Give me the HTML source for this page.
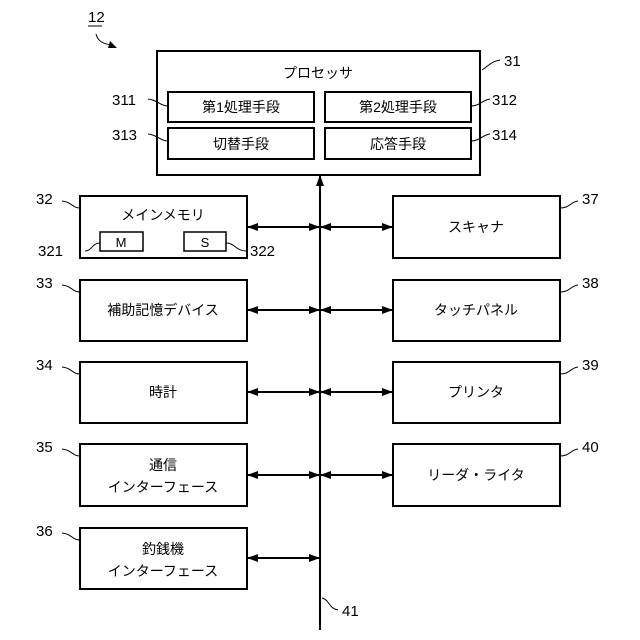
<!DOCTYPE html>
<html><head><meta charset="utf-8"><style>body{margin:0;background:#fff}svg{display:block}text{font-family:"Liberation Sans","Noto Sans CJK JP",sans-serif;fill:#000}</style></head><body>
<svg width="640" height="640" viewBox="0 0 640 640">
<defs><marker id="a" markerWidth="11" markerHeight="10" refX="10" refY="5" orient="auto-start-reverse" markerUnits="userSpaceOnUse"><path d="M0,1 L11,5 L0,9z" fill="#000"/></marker></defs>
<g fill="none" stroke="#000" stroke-width="2">
<rect x="157" y="51" width="323" height="124"/>
<rect x="168" y="92" width="146" height="30"/><rect x="325" y="92" width="146" height="30"/>
<rect x="168" y="128" width="146" height="31"/><rect x="325" y="128" width="146" height="31"/>
<rect x="80" y="196" width="167" height="62"/><rect x="393" y="196" width="167" height="62"/>
<rect x="80" y="280" width="167" height="61"/><rect x="393" y="280" width="167" height="61"/>
<rect x="80" y="362" width="167" height="61"/><rect x="393" y="362" width="167" height="61"/>
<rect x="80" y="444" width="167" height="62"/><rect x="393" y="444" width="167" height="62"/>
<rect x="80" y="528" width="167" height="61"/>
</g>
<g fill="none" stroke="#000" stroke-width="1.5">
<rect x="100" y="232" width="43" height="19"/><rect x="184" y="232" width="42" height="19"/>
</g>
<g stroke="#000" stroke-width="2" fill="none">
<line x1="320" y1="630" x2="320" y2="176" marker-end="url(#a)"/>
<line x1="248" y1="227" x2="319" y2="227" marker-start="url(#a)" marker-end="url(#a)"/>
<line x1="321" y1="227" x2="392" y2="227" marker-start="url(#a)" marker-end="url(#a)"/>
<line x1="248" y1="310" x2="319" y2="310" marker-start="url(#a)" marker-end="url(#a)"/>
<line x1="321" y1="310" x2="392" y2="310" marker-start="url(#a)" marker-end="url(#a)"/>
<line x1="248" y1="392" x2="319" y2="392" marker-start="url(#a)" marker-end="url(#a)"/>
<line x1="321" y1="392" x2="392" y2="392" marker-start="url(#a)" marker-end="url(#a)"/>
<line x1="248" y1="475" x2="319" y2="475" marker-start="url(#a)" marker-end="url(#a)"/>
<line x1="321" y1="475" x2="392" y2="475" marker-start="url(#a)" marker-end="url(#a)"/>
<line x1="248" y1="558" x2="319" y2="558" marker-start="url(#a)" marker-end="url(#a)"/>
</g>
<g stroke="#000" stroke-width="1" fill="none">
<path d="M482,70 C490,65 490,62 500,60"/>
<path d="M148,99 C158,100 160,106 168,106"/>
<path d="M471,106 C480,106 482,100 490,99"/>
<path d="M148,134 C158,135 160,141 168,141"/>
<path d="M471,141 C480,141 482,135 490,134"/>
<path d="M62,201 C72,202 72,208 80,208"/>
<path d="M560,208 C570,208 570,202 578,201"/>
<path d="M85,251 C92,251 92,243 100,243"/>
<path d="M226,243 C235,243 236,251 246,251"/>
<path d="M62,285 C72,286 72,292 80,292"/>
<path d="M560,292 C570,292 570,286 578,285"/>
<path d="M62,367 C72,368 72,374 80,374"/>
<path d="M560,374 C570,374 570,368 578,367"/>
<path d="M62,449 C72,450 72,456 80,456"/>
<path d="M560,456 C570,456 570,450 578,449"/>
<path d="M62,533 C72,534 72,540 80,540"/>
<path d="M322,598 C330,600 328,608 338,610"/>
<path d="M88,26 L102,26"/>
<path d="M96,34 C98,42 104,44 112,45"/>
</g>
<path d="M110,41 L117,48 L108,48z" fill="#000"/>
<g font-size="14" text-anchor="middle">
<text x="318" y="78">プロセッサ</text>
<text x="241" y="112">第1処理手段</text><text x="398" y="112">第2処理手段</text>
<text x="241" y="149">切替手段</text><text x="398" y="149">応答手段</text>
<text x="163" y="220">メインメモリ</text>
<text x="121" y="247" font-size="13">M</text><text x="205" y="247" font-size="13">S</text>
<text x="476" y="232">スキャナ</text>
<text x="163" y="315">補助記憶デバイス</text><text x="476" y="315">タッチパネル</text>
<text x="163" y="397">時計</text><text x="476" y="397">プリンタ</text>
<text x="163" y="470">通信</text><text x="163" y="492">インターフェース</text>
<text x="476" y="480">リーダ・ライタ</text>
<text x="163" y="554">釣銭機</text><text x="163" y="576">インターフェース</text>
</g>
<g font-size="15">
<text x="88" y="22">12</text>
<text x="504" y="66">31</text>
<text x="112" y="105">311</text><text x="492" y="105">312</text>
<text x="112" y="140">313</text><text x="492" y="140">314</text>
<text x="36" y="204">32</text><text x="582" y="204">37</text>
<text x="38" y="256">321</text><text x="250" y="256">322</text>
<text x="36" y="288">33</text><text x="582" y="288">38</text>
<text x="36" y="370">34</text><text x="582" y="370">39</text>
<text x="36" y="452">35</text><text x="582" y="452">40</text>
<text x="36" y="536">36</text><text x="342" y="616">41</text>
</g>
</svg>
</body></html>
